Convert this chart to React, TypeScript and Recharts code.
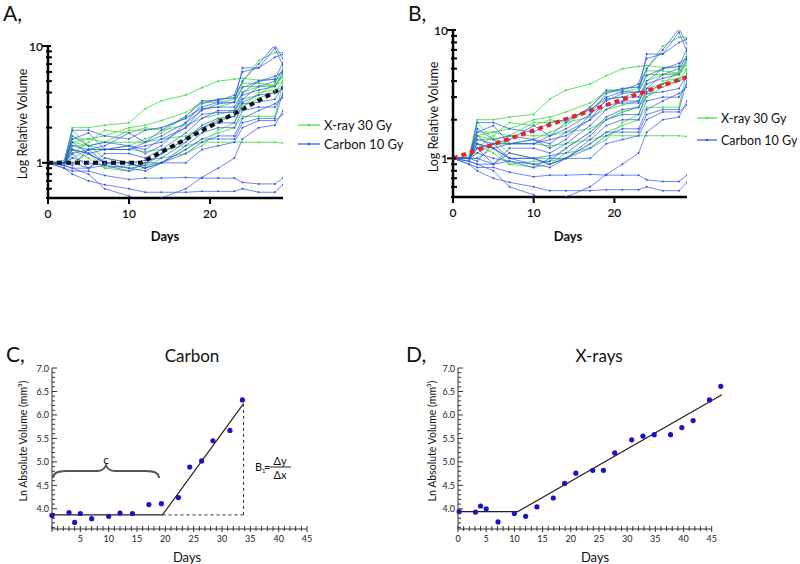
import React from 'react';
import { LineChart, Line, XAxis, YAxis, ComposedChart, Scatter, ReferenceLine } from 'recharts';

// ---------- Panels A & B: relative tumour volume per animal ----------
const spagDays = [0, 2, 3, 5, 7, 10, 12, 14, 17, 19, 21, 23, 24, 26, 28, 29];

const xray1 = [1, 1.05, 2.0, 2.0, 2.1, 2.2, 2.9, 3.4, 3.8, 4.4, 5.0, 5.2, 5.3, 5.1, 5.2, 5.3];
const xray2 = [1, 1.0, 1.5, 1.6, 1.7, 2.0, 2.1, 2.3, 2.7, 3.3, 3.5, 3.6, 5.0, 7.5, 8.8, 8.8];
const xray3 = [1, 1.0, 1.4, 1.4, 1.3, 1.3, 1.25, 1.3, 1.4, 1.5, 1.5, 1.5, 1.5, 1.5, 1.5, 1.48];
const xray4 = [1, 1.0, 1.2, 1.5, 1.9, 1.8, 2.0, 1.9, 2.1, 2.4, 2.6, 2.8, 4.0, 4.5, 4.5, 5.5];
const xray5 = [1, 0.95, 1.3, 1.1, 0.9, 0.95, 0.95, 1.0, 1.3, 1.6, 1.8, 2.0, 2.5, 2.5, 2.5, 4.8];
const xray6 = [1, 1.0, 1.1, 1.3, 1.3, 1.4, 1.6, 1.8, 2.5, 3.3, 3.3, 3.5, 4.8, 4.8, 4.6, 6.0];
const xray7 = [1, 1.0, 1.0, 1.2, 0.9, 0.85, 0.9, 1.1, 1.2, 1.4, 1.9, 2.2, 3.0, 3.6, 4.0, 5.0];
const xray8 = [1, 1.0, 1.5, 1.4, 1.5, 1.5, 1.5, 1.6, 1.7, 2.0, 2.3, 2.5, 3.5, 3.8, 4.8, 6.5];
const xray9 = [1, 1.0, 1.9, 1.4, 1.1, 1.0, 1.0, 1.2, 1.6, 2.0, 2.3, 2.5, 3.0, 4.0, 4.2, 4.4];
const xray10 = [1, 1.0, 1.6, 1.6, 1.5, 1.9, 1.9, 2.0, 2.4, 2.9, 3.0, 3.3, 4.5, 4.5, 4.6, 5.0];

const carbon1 = [1, 0.95, 0.9, 0.8, 0.6, 0.52, 0.45, 0.5, 0.6, 0.75, 0.9, 1.1, 1.6, 2.0, 2.1, 2.8];
const carbon2 = [1, 0.9, 0.85, 0.85, 0.78, 0.72, 0.74, 0.74, 0.75, 0.74, 0.74, 0.74, 0.68, 0.66, 0.66, 0.74];
const carbon3 = [1, 0.9, 0.8, 0.7, 0.65, 0.6, 0.56, 0.56, 0.56, 0.57, 0.57, 0.57, 0.6, 0.56, 0.56, 0.65];
const carbon4 = [1, 1.0, 1.9, 1.9, 1.7, 1.6, 1.9, 2.0, 2.4, 3.0, 3.3, 3.3, 6.5, 6.5, 9.6, 6.8];
const carbon5 = [1, 1.0, 1.6, 1.8, 1.3, 1.3, 1.5, 1.7, 2.2, 3.2, 3.5, 3.6, 5.0, 7.0, 10.2, 7.8];
const carbon6 = [1, 1.0, 1.3, 1.2, 1.3, 1.3, 1.4, 1.5, 2.0, 2.9, 3.0, 3.0, 4.0, 5.0, 5.2, 7.2];
const carbon7 = [1, 1.0, 1.2, 0.9, 1.2, 1.2, 1.1, 1.3, 1.8, 2.4, 2.8, 2.8, 3.5, 4.5, 5.0, 6.2];
const carbon8 = [1, 1.0, 1.0, 0.9, 1.1, 1.0, 0.9, 1.0, 1.4, 1.8, 2.0, 2.0, 2.8, 3.0, 3.0, 3.8];
const carbon9 = [1, 1.0, 1.1, 1.0, 0.95, 0.9, 0.85, 1.0, 1.3, 1.6, 1.6, 1.6, 2.2, 2.4, 2.4, 4.0];
const carbon10 = [1, 1.0, 1.5, 1.2, 1.0, 0.9, 0.95, 1.2, 1.6, 2.1, 2.4, 2.5, 3.3, 3.8, 4.0, 4.3];
const carbon11 = [1, 1.0, 1.2, 1.3, 1.3, 1.4, 1.2, 1.4, 2.2, 2.8, 3.2, 3.3, 4.4, 5.0, 5.5, 6.0];
const carbon12 = [1, 0.95, 0.9, 0.9, 0.95, 0.85, 1.0, 1.0, 1.2, 1.5, 1.7, 1.7, 2.4, 2.8, 3.2, 3.6];
const carbon13 = [1, 1.0, 1.4, 1.3, 1.4, 1.8, 1.5, 1.9, 2.5, 3.4, 3.4, 3.8, 6.0, 6.5, 8.0, 8.5];
const carbon14 = [1, 1.0, 1.7, 1.4, 1.5, 1.4, 1.3, 1.6, 2.0, 2.6, 2.7, 2.7, 3.8, 4.2, 4.5, 5.8];
const carbon15 = [1, 1.0, 0.95, 1.3, 1.0, 1.0, 1.05, 1.1, 1.5, 2.0, 2.2, 2.2, 3.2, 3.3, 3.5, 4.5];
const carbon16 = [1, 1.0, 1.3, 1.2, 1.0, 1.0, 0.9, 1.0, 1.0, 1.3, 1.4, 1.5, 2.0, 2.3, 2.3, 2.6];

const xrayList = [xray1, xray2, xray3, xray4, xray5, xray6, xray7, xray8, xray9, xray10];
const carbonList = [carbon1, carbon2, carbon3, carbon4, carbon5, carbon6, carbon7, carbon8,
  carbon9, carbon10, carbon11, carbon12, carbon13, carbon14, carbon15, carbon16];

const fitADays = [0, 11.5, 29];
const fitAVals = [1, 1, 4.4];
const fitBDays = [0, 29];
const fitBVals = [1, 4.3];

const logTicks = [0.5, 0.6, 0.7, 0.8, 0.9, 1, 2, 3, 4, 5, 6, 7, 8, 9, 10];
const relDayTicks = [0, 10, 20];

// ---------- Panels C & D: ln absolute volume of one tumour ----------
const carbonDays = [0, 3, 4, 5, 7, 10, 12, 14.2, 17.1, 19.3, 22.3, 24.3, 26.4, 28.4, 31.4, 33.6];
const carbonLnVol = [3.86, 3.92, 3.71, 3.9, 3.79, 3.84, 3.91, 3.9, 4.09, 4.11, 4.24, 4.89, 5.02, 5.45, 5.67, 6.32];
const carbonFitDays = [0, 19.5, 33.8];
const carbonFitVals = [3.87, 3.87, 6.24];

const xrayDays = [0.2, 3.1, 4, 5, 7.1, 10, 12, 14, 16.9, 18.9, 20.9, 23.9, 25.8, 27.8, 30.8, 32.8, 34.8, 37.7, 39.7, 41.7, 44.6, 46.6];
const xrayLnVol = [3.94, 3.93, 4.06, 4.0, 3.72, 3.9, 3.84, 4.04, 4.23, 4.54, 4.76, 4.82, 4.82, 5.19, 5.47, 5.55, 5.58, 5.58, 5.73, 5.88, 6.32, 6.61];
const xrayFitDays = [0, 10.6, 46.8];
const xrayFitVals = [3.94, 3.94, 6.43];

const absDayTicks = Array.from({ length: 46 }, (_, i) => i);
const lnTicks = Array.from({ length: 35 }, (_, i) => Math.round((3.6 + i * 0.1) * 10) / 10);

const toPts = (xs: number[], ys: number[]) => xs.map((d, i) => ({ d, v: ys[i] }));

const spagRows = spagDays.map((d, i) => {
  const r: any = { d };
  xrayList.forEach((s, k) => { r['g' + k] = s[i]; });
  carbonList.forEach((s, k) => { r['b' + k] = s[i]; });
  return r;
});

const GREEN = '#3fdc3f';
const BLUE = '#2f55ee';
const FONT = 'Lato, "Open Sans", sans-serif';

const LogYTick = (props: any) => {
  const { x, y, payload } = props;
  const v = payload.value;
  const major = v === 1 || v === 10;
  return (
    <g>
      <line x1={x - (major ? 6 : 2)} x2={x + (major ? 3 : 4)} y1={y} y2={y} stroke="#000" strokeWidth={2} />
      {major && (
        <text x={x - 5} y={y} textAnchor="end" dominantBaseline="central" fontSize={12} fontWeight={600} fontFamily={FONT} fill="#111">
          {v}
        </text>
      )}
    </g>
  );
};

const RelXTick = (props: any) => {
  const { x, y, payload } = props;
  return (
    <g>
      <line x1={x} x2={x} y1={y} y2={y + 6} stroke="#000" strokeWidth={2} />
      <text x={x} y={y + 15} textAnchor="middle" dominantBaseline="central" fontSize={12} fontWeight={600} fontFamily={FONT} fill="#111">
        {payload.value}
      </text>
    </g>
  );
};

const LnYTick = (props: any) => {
  const { x, y, payload } = props;
  const v = payload.value;
  const major = Math.abs(v * 2 - Math.round(v * 2)) < 1e-6;
  return (
    <g>
      <line x1={x} x2={x + (major ? 5 : 3)} y1={y} y2={y} stroke="#333" strokeWidth={1} />
      {major && v >= 4 && (
        <text x={x - 3} y={y} textAnchor="end" dominantBaseline="central" fontSize={9} fontFamily={FONT} fill="#222">
          {v.toFixed(1)}
        </text>
      )}
    </g>
  );
};

const makeAbsXTick = (showZero: boolean) => (props: any) => {
  const { x, y, payload } = props;
  const v = payload.value;
  const major = v % 5 === 0;
  return (
    <g>
      <line x1={x} x2={x} y1={y - 3} y2={y + (major ? 3 : 2)} stroke="#333" strokeWidth={1} />
      {major && (v !== 0 || showZero) && (
        <text x={x} y={y + 9} textAnchor="middle" dominantBaseline="central" fontSize={9} fontFamily={FONT} fill="#222">
          {v}
        </text>
      )}
    </g>
  );
};

const Dot = (props: any) => {
  const { cx, cy } = props;
  return <circle cx={cx} cy={cy} r={2.6} fill="#1616c4" />;
};

function SpagChart({ fit, fitColor, margin }: any) {
  return (
    <LineChart width={400} height={250} data={spagRows} margin={margin}>
      <XAxis dataKey="d" type="number" domain={[0, 29]} ticks={relDayTicks} interval={0} tickSize={0} tickMargin={0}
        tickLine={false} axisLine={{ stroke: '#000', strokeWidth: 2.5 }} tick={(p: any) => <RelXTick {...p} />} height={20} allowDataOverflow />
      <YAxis type="number" scale="log" domain={[0.5, 10]} ticks={logTicks} interval={0} tickSize={0} tickMargin={0}
        tickLine={false} axisLine={{ stroke: '#000', strokeWidth: 2.5 }} tick={(p: any) => <LogYTick {...p} />} width={20} allowDataOverflow />
      {xrayList.map((_, k) => (
        <Line key={'g' + k} dataKey={'g' + k} stroke={GREEN} strokeOpacity={0.8} strokeWidth={1}
          dot={{ r: 1, fill: GREEN, stroke: 'none' }} isAnimationActive={false} />
      ))}
      {carbonList.map((_, k) => (
        <Line key={'b' + k} dataKey={'b' + k} stroke={BLUE} strokeOpacity={0.7} strokeWidth={1}
          dot={{ r: 1, fill: BLUE, stroke: 'none' }} isAnimationActive={false} />
      ))}
      <Line data={fit} dataKey="v" stroke={fitColor} strokeWidth={4} strokeDasharray="5 4" dot={false} isAnimationActive={false} />
    </LineChart>
  );
}

function AbsChart({ pts, fit, dashH, dashV, xMax, showZero, margin, customAxis }: any) {
  return (
    <ComposedChart width={400} height={264} margin={margin}>
      <XAxis dataKey="d" type="number" domain={[0, xMax]} ticks={absDayTicks} interval={0} tickSize={0} tickMargin={0}
        tickLine={false} axisLine={customAxis ? false : { stroke: '#333' }} tick={makeAbsXTick(showZero)} height={20} />
      <YAxis type="number" domain={[3.57, 7]} ticks={lnTicks} interval={0} tickSize={0} tickMargin={0}
        tickLine={false} axisLine={{ stroke: '#333' }} tick={(p: any) => <LnYTick {...p} />} width={20} allowDataOverflow />
      {customAxis && <ReferenceLine segment={[{ x: 0, y: 3.57 }, { x: 45, y: 3.57 }]} stroke="#333" ifOverflow="visible" />}
      {dashH && <Line data={dashH} dataKey="v" stroke="#333" strokeWidth={1} strokeDasharray="3 3" dot={false} isAnimationActive={false} />}
      {dashV && <Line data={dashV} dataKey="v" stroke="#333" strokeWidth={1} strokeDasharray="3 3" dot={false} isAnimationActive={false} />}
      <Line data={fit} dataKey="v" stroke="#222" strokeWidth={1.2} dot={false} isAnimationActive={false} />
      <Scatter data={pts} dataKey="v" shape={(p: any) => <Dot {...p} />} isAnimationActive={false} />
    </ComposedChart>
  );
}

export default function App() {
  const fitA = toPts(fitADays, fitAVals);
  const fitB = toPts(fitBDays, fitBVals);
  const cPts = toPts(carbonDays, carbonLnVol);
  const cFit = toPts(carbonFitDays, carbonFitVals);
  const cDashH = toPts([carbonFitDays[1], carbonFitDays[2]], [carbonFitVals[1], carbonFitVals[1]]);
  const cDashV = toPts([carbonFitDays[2], carbonFitDays[2]], [carbonFitVals[1], carbonFitVals[2]]);
  const dPts = toPts(xrayDays, xrayLnVol);
  const dFit = toPts(xrayFitDays, xrayFitVals);
  const txt = { fontFamily: FONT, fill: '#111' } as any;
  return (
    <div style={{ position: 'absolute', left: 0, top: 0, width: 800, height: 564, background: '#fff', fontFamily: FONT }}>
      <div style={{ position: 'absolute', left: 0, top: 0 }}>
        <SpagChart fit={fitA} fitColor="#111" margin={{ top: 46, right: 117, bottom: 32, left: 28 }} />
      </div>
      <div style={{ position: 'absolute', left: 400, top: 0 }}>
        <SpagChart fit={fitB} fitColor="#ee2222" margin={{ top: 30, right: 113, bottom: 33, left: 33 }} />
      </div>
      <div style={{ position: 'absolute', left: 0, top: 300 }}>
        <AbsChart pts={cPts} fit={cFit} dashH={cDashH} dashV={cDashV} xMax={45} showZero={false}
          margin={{ top: 68, right: 93, bottom: 15, left: 32 }} />
      </div>
      <div style={{ position: 'absolute', left: 400, top: 300 }}>
        <AbsChart pts={dPts} fit={dFit} xMax={47} showZero={true} customAxis
          margin={{ top: 68, right: 77, bottom: 15, left: 38 }} />
      </div>
      <svg width={800} height={564} style={{ position: 'absolute', left: 0, top: 0, pointerEvents: 'none' }}>
        {/* Panel A */}
        <text x={3} y={21} fontSize={21} {...txt}>A,</text>
        <text transform="translate(22,124) rotate(-90)" textAnchor="middle" dominantBaseline="central" fontSize={12.5} {...txt}>Log Relative Volume</text>
        <text x={165} y={236} textAnchor="middle" dominantBaseline="central" fontSize={13} fontWeight={700} {...txt}>Days</text>
        <line x1={298} x2={320} y1={125} y2={125} stroke={GREEN} strokeWidth={1.2} />
        <circle cx={309} cy={125} r={1.2} fill={GREEN} />
        <text x={324} y={125} dominantBaseline="central" fontSize={13} {...txt}>X-ray 30 Gy</text>
        <line x1={298} x2={320} y1={144} y2={144} stroke={BLUE} strokeWidth={1.2} />
        <circle cx={309} cy={144} r={1.2} fill={BLUE} />
        <text x={324} y={144} dominantBaseline="central" fontSize={13} {...txt}>Carbon 10 Gy</text>

        {/* Panel B */}
        <text x={408} y={21} fontSize={21} {...txt}>B,</text>
        <text transform="translate(433,117) rotate(-90)" textAnchor="middle" dominantBaseline="central" fontSize={12.5} {...txt}>Log Relative Volume</text>
        <text x={568} y={236} textAnchor="middle" dominantBaseline="central" fontSize={13} fontWeight={700} {...txt}>Days</text>
        <line x1={697} x2={717} y1={118} y2={118} stroke={GREEN} strokeWidth={1.2} />
        <circle cx={707} cy={118} r={1.2} fill={GREEN} />
        <text x={721} y={118} dominantBaseline="central" fontSize={12.5} {...txt}>X-ray 30 Gy</text>
        <line x1={697} x2={717} y1={140} y2={140} stroke={BLUE} strokeWidth={1.2} />
        <circle cx={707} cy={140} r={1.2} fill={BLUE} />
        <text x={721} y={140} dominantBaseline="central" fontSize={12.5} {...txt}>Carbon 10 Gy</text>

        {/* Panel C */}
        <text x={6} y={353} dominantBaseline="central" fontSize={21} {...txt}>C,</text>
        <text x={192} y={355} textAnchor="middle" dominantBaseline="central" fontSize={17} {...txt}>Carbon</text>
        <text transform="translate(23,441) rotate(-90)" textAnchor="middle" dominantBaseline="central" fontSize={10.5} {...txt}>Ln Absolute Volume (mm³)</text>
        <text x={187} y={557} textAnchor="middle" dominantBaseline="central" fontSize={13} {...txt}>Days</text>
        <path d="M53,478 Q53,471 66,471 L97,471 Q104,471 106,465 Q108,471 115,471 L146,471 Q159,471 159,478"
          fill="none" stroke="#555" strokeWidth={1.8} />
        <text x={106} y={459} textAnchor="middle" dominantBaseline="central" fontSize={12} {...txt}>c</text>
        <text x={255} y={466} dominantBaseline="central" fontSize={11} {...txt}>B</text>
        <text x={262} y={470} dominantBaseline="central" fontSize={6} {...txt}>1</text>
        <text x={264} y={466} dominantBaseline="central" fontSize={11} {...txt}>=</text>
        <line x1={270} x2={291} y1={467} y2={467} stroke="#111" strokeWidth={0.9} />
        <text x={280} y={460} textAnchor="middle" dominantBaseline="central" fontSize={11} {...txt}>Δy</text>
        <text x={280} y={474} textAnchor="middle" dominantBaseline="central" fontSize={11} {...txt}>Δx</text>

        {/* Panel D */}
        <text x={406} y={353} dominantBaseline="central" fontSize={21} {...txt}>D,</text>
        <text x={599} y={355} textAnchor="middle" dominantBaseline="central" fontSize={17} {...txt}>X-rays</text>
        <text transform="translate(432,441) rotate(-90)" textAnchor="middle" dominantBaseline="central" fontSize={10.5} {...txt}>Ln Absolute Volume (mm³)</text>
        <text x={595} y={557} textAnchor="middle" dominantBaseline="central" fontSize={13} {...txt}>Days</text>
      </svg>
    </div>
  );
}
